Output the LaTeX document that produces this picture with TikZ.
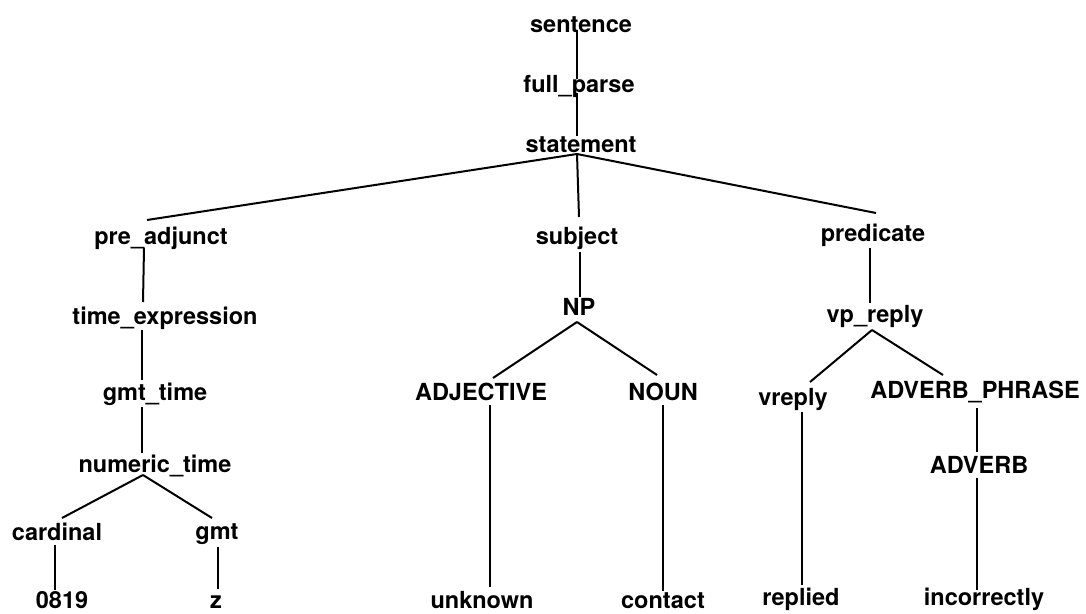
\documentclass[tikz,border=0pt]{standalone}
\usepackage{fontspec}
\setmainfont{TeX Gyre Heros}
\usetikzlibrary{calc}
\begin{document}
\begin{tikzpicture}[x=1pt,y=-1pt,
  lbl/.style={anchor=base,inner sep=0pt,font=\fontsize{23.5}{28}\selectfont\bfseries},
  edge/.style={line width=2pt,line cap=butt}]
\useasboundingbox (0,0) rectangle (1086,613);

% labels of the parse tree
\node[lbl] (sent) at (581,32)  {sentence};
\node[lbl] (fp)   at (579,92)  {full\_parse};
\node[lbl] (st)   at (581,152) {statement};

\node[lbl] (pa)   at (161,244) {pre\_adjunct};
\node[lbl] (subj) at (577,244) {subject};
\node[lbl] (pred) at (873,241) {predicate};

\node[lbl] (te)   at (165,324) {time\_expression};
\node[lbl] (np)   at (579,315) {NP};
\node[lbl] (vp)   at (875,322) {vp\_reply};

\node[lbl] (gt)   at (155,400) {gmt\_time};
\node[lbl] (adj)  at (481,400) {ADJECTIVE};
\node[lbl] (noun) at (663,400) {NOUN};
\node[lbl] (vr)   at (793,405) {vreply};
\node[lbl] (ap)   at (975,398) {ADVERB\_PHRASE};

\node[lbl] (nt)   at (155,472) {numeric\_time};
\node[lbl] (adv)  at (979,473) {ADVERB};

\node[lbl] (card) at (57,540)  {cardinal};
\node[lbl] (gmt)  at (217,539) {gmt};

\node[lbl] (num)  at (62,608)  {0819};
\node[lbl] (z)    at (216,608) {z};
\node[lbl] (unk)  at (482,608) {unknown};
\node[lbl] (con)  at (663,608) {contact};
\node[lbl] (rep)  at (801,605) {replied};
\node[lbl] (inc)  at (984,605) {incorrectly};

% branches
\draw[edge] ($(sent.base)+(-4,-2)$) -- ($(fp.base)+(-2,-13)$);
\draw[edge] ($(fp.base)+(-2,1)$)    -- ($(st.base)+(-4,-16)$);

\draw[edge] ($(st.base)+(-4,2)$) -- ($(pa.base)+(-14,-24)$);
\draw[edge] ($(st.base)+(-4,2)$) -- ($(subj.base)+(2,-27)$);
\draw[edge] ($(st.base)+(-4,2)$) -- ($(pred.base)+(3,-28)$);

\draw[edge] ($(pa.base)+(-17,4)$) -- ($(te.base)+(-22,-22)$);
\draw[edge] ($(te.base)+(-23,6)$) -- ($(gt.base)+(-13,-20)$);
\draw[edge] ($(gt.base)+(-13,7)$) -- ($(nt.base)+(-13,-19)$);
\draw[edge] ($(nt.base)+(-12,3)$) -- ($(card.base)+(5,-22)$);
\draw[edge] ($(nt.base)+(-12,3)$) -- ($(gmt.base)+(-5,-21)$);
\draw[edge] ($(card.base)+(-2,5)$) -- ($(num.base)+(-7,-18)$);
\draw[edge] ($(gmt.base)+(1,8)$)   -- ($(z.base)+(2,-19)$);

\draw[edge] ($(subj.base)+(3,8)$) -- ($(np.base)+(1,-18)$);
\draw[edge] ($(np.base)+(-2,7)$)  -- ($(adj.base)+(12,-22)$);
\draw[edge] ($(np.base)+(-2,7)$)  -- ($(noun.base)+(-6,-25)$);
\draw[edge] ($(adj.base)+(9,5)$)  -- ($(unk.base)+(8,-21)$);
\draw[edge] ($(noun.base)+(0,5)$) -- ($(con.base)+(0,-17)$);

\draw[edge] ($(pred.base)+(-3,7)$) -- ($(vp.base)+(-5,-19)$);
\draw[edge] ($(vp.base)+(-3,8)$)   -- ($(vr.base)+(17,-23)$);
\draw[edge] ($(vp.base)+(-3,8)$)   -- ($(ap.base)+(-32,-23)$);
\draw[edge] ($(vr.base)+(9,7)$)    -- ($(rep.base)+(1,-20)$);
\draw[edge] ($(ap.base)+(2,10)$)   -- ($(adv.base)+(-2,-21)$);
\draw[edge] ($(adv.base)+(-2,5)$)  -- ($(inc.base)+(-7,-15)$);
\end{tikzpicture}
\end{document}
